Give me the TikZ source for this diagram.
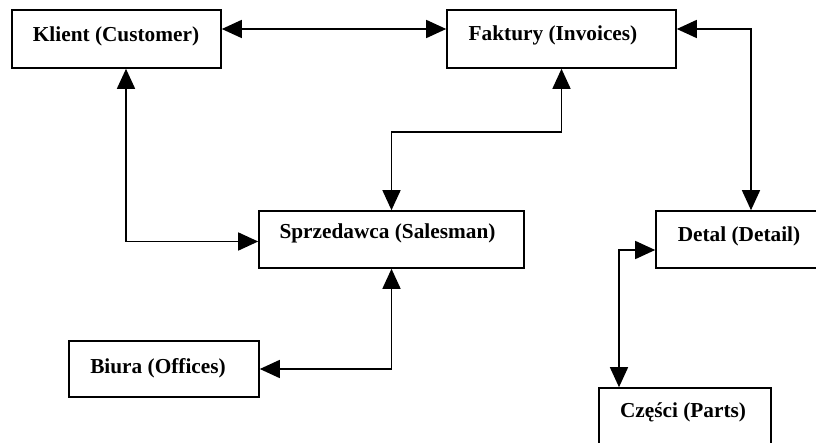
\documentclass[tikz,border=0pt]{standalone}
\usepackage{fontspec}
\setmainfont{Liberation Serif}
\usetikzlibrary{arrows.meta}
\begin{document}
\begin{tikzpicture}[x=1pt,y=-1pt,
  entity/.style={draw=black,line width=1.6pt,fill=white,rectangle,inner sep=0pt},
  title/.style={anchor=base,inner sep=0pt,font=\fontsize{21.3}{24}\selectfont\bfseries},
  link/.style={line width=1.5pt,{Triangle[length=20pt,width=18pt]}-{Triangle[length=20pt,width=18pt]}}]
\useasboundingbox (0,0) rectangle (816,443);
\clip (0,0) rectangle (816,443);

% entity boxes
\node[entity,minimum width=209pt,minimum height=58pt] (klient) at (116.5,39) {};
\node[entity,minimum width=229pt,minimum height=58pt] (faktury) at (561.5,39) {};
\node[entity,minimum width=265pt,minimum height=57pt] (sprzed) at (391.5,239.5) {};
\node[entity,minimum width=180pt,minimum height=57pt] (detal) at (746,239.5) {};
\node[entity,minimum width=190pt,minimum height=56pt] (biura) at (164,369) {};
\node[entity,minimum width=172pt,minimum height=64pt] (czesci) at (685,420) {};

% box captions
\node[title] (tklient) at (116,42) {Klient (Customer)};
\node[title] (tfaktury) at (553,41) {Faktury (Invoices)};
\node[title] (tsprzed) at (387.5,239) {Sprzedawca (Salesman)};
\node[title] (tdetal) at (739,242) {Detal (Detail)};
\node[title] (tbiura) at (158,373) {Biura (Offices)};
\node[title] (tczesci) at (683,417) {Części (Parts)};

% relationships
\draw[link] ([yshift=10pt]klient.east) -- ([yshift=10pt]faktury.west);
\draw[link] ([yshift=10pt]faktury.east) -| ([xshift=5pt]detal.north);
\draw[link] (faktury.south) -- ++(0,63) -| (sprzed.north);
\draw[link] ([xshift=9.5pt]klient.south) |- ([yshift=-2pt]sprzed.west);
\draw[link] (sprzed.south) |- (biura.east);
\draw[link] ([yshift=-10.5pt]detal.west) -| ([xshift=-66pt]czesci.north);
\end{tikzpicture}
\end{document}
